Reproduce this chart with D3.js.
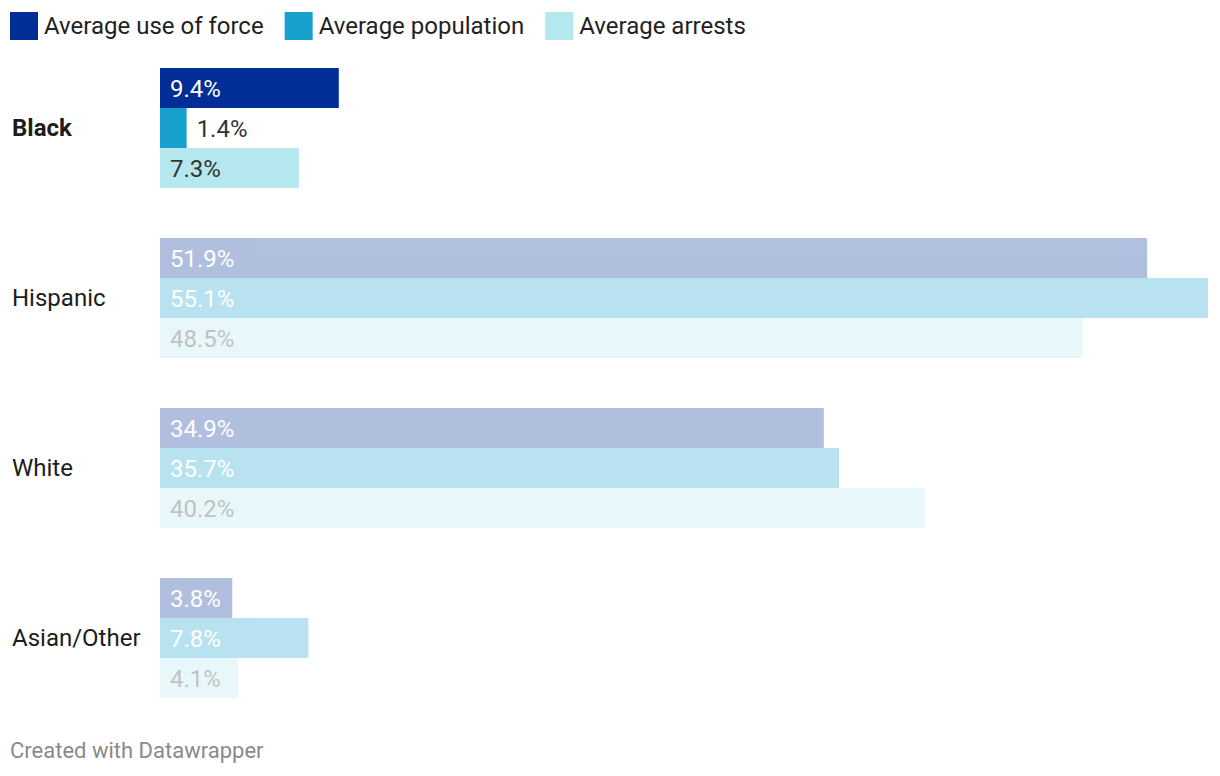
<!DOCTYPE html>
<html><head><meta charset="utf-8">
<script src="https://cdn.jsdelivr.net/npm/d3@7/dist/d3.min.js"></script>
<style>body{margin:0;background:#fff;font-family:Roboto,sans-serif;}</style>
</head><body><svg id="c" width="1220" height="776"></svg>
<script>
const categories = ["Black", "Hispanic", "White", "Asian/Other"];
const seriesNames = ["Average use of force", "Average population", "Average arrests"];
const useOfForce = [9.4, 51.9, 34.9, 3.8];
const population = [1.4, 55.1, 35.7, 7.8];
const arrests = [7.3, 48.5, 40.2, 4.1];
const highlighted = "Black";

const colors = ["#002d96", "#18a1cd", "#b4e8ee"];
const labelColors = ["#ffffff", "#ffffff", "#333333"];
const series = [useOfForce, population, arrests];

const svg = d3.select("#c");
const font = "Roboto, sans-serif";

// legend
let lx = 10;
seriesNames.forEach((name, i) => {
  svg.append("rect").attr("x", lx).attr("y", 12).attr("width", 28).attr("height", 28).attr("fill", colors[i]);
  const t = svg.append("text").attr("x", lx + 34).attr("y", 34).attr("font-family", font)
    .attr("font-size", 24).attr("fill", "#222").text(name);
  lx += 34 + t.node().getComputedTextLength() + 21;
});

const x = d3.scaleLinear().domain([0, d3.max(series.flat())]).range([160, 1208]);
const yGroup = d3.scaleBand().domain(categories).range([68, 748]).paddingInner(0).paddingOuter(0);
const ySub = d3.scaleBand().domain(d3.range(series.length)).range([0, 120]);

categories.forEach((cat, ci) => {
  const g = svg.append("g").attr("transform", `translate(0,${yGroup(cat)})`);
  const hi = cat === highlighted;
  g.append("text").attr("x", 12).attr("y", 60).attr("dy", "0.35em").attr("font-family", font)
    .attr("font-size", 24).attr("font-weight", hi ? "bold" : "normal").attr("fill", "#1d1d1d").text(cat);
  const bars = g.append("g").attr("opacity", hi ? 1 : 0.3);
  series.forEach((vals, si) => {
    const v = vals[ci];
    const w = x(v) - x(0);
    bars.append("rect").attr("x", x(0)).attr("y", ySub(si)).attr("width", w)
      .attr("height", ySub.bandwidth()).attr("fill", colors[si]);
    const label = v.toFixed(1) + "%";
    const inside = w > 60;
    bars.append("text").attr("x", inside ? x(0) + 10 : x(v) + 10).attr("y", ySub(si) + ySub.bandwidth() / 2)
      .attr("dy", "0.36em").attr("font-family", font).attr("font-size", 24)
      .attr("fill", inside ? labelColors[si] : "#333333").text(label);
  });
});

svg.append("text").attr("x", 10).attr("y", 758).attr("font-family", font).attr("font-size", 22)
  .attr("fill", "#8a8a8a").text("Created with Datawrapper");
</script>
</body></html>
